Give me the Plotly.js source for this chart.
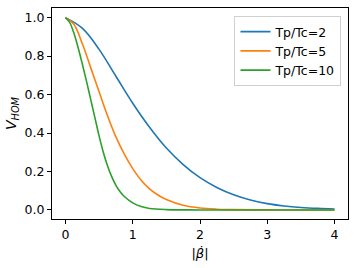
<!DOCTYPE html>
<html>
<head>
<meta charset="utf-8">
<script src="https://cdn.plot.ly/plotly-3.0.1.min.js"></script>
<style>html,body{margin:0;padding:0;background:#fff;}#chart{width:357px;height:268px;}</style>
</head>
<body>
<div id="chart"></div>
<script>
// Tp/Tc = 2
const beta2 = [0, 0.25, 0.5, 0.75, 1.0, 1.25, 1.5, 1.75, 2.0, 2.25, 2.5, 2.75, 3.0, 3.25, 3.5, 3.75, 4.0];
const v2    = [1.0, 0.945, 0.835, 0.695, 0.555, 0.43, 0.322, 0.236, 0.168, 0.117, 0.079, 0.052, 0.033, 0.021, 0.013, 0.008, 0.005];
// Tp/Tc = 5
const beta5 = [0, 0.125, 0.25, 0.375, 0.5, 0.625, 0.75, 0.875, 1.0, 1.125, 1.25, 1.375, 1.5, 1.75, 2.0, 2.25, 2.5, 3.0, 3.5, 4.0];
const v5    = [1.0, 0.965, 0.865, 0.74, 0.615, 0.49, 0.38, 0.29, 0.215, 0.155, 0.11, 0.078, 0.054, 0.024, 0.01, 0.004, 0.0015, 0.0002, 0.0, 0.0];
// Tp/Tc = 10
const beta10 = [0, 0.0625, 0.125, 0.1875, 0.25, 0.3125, 0.375, 0.4375, 0.5, 0.5625, 0.625, 0.6875, 0.75, 0.8125, 0.875, 1.0, 1.125, 1.25, 1.5, 1.75, 2.0, 2.5, 3.0, 3.5, 4.0];
const v10    = [1.0, 0.975, 0.92, 0.845, 0.76, 0.67, 0.575, 0.48, 0.385, 0.30, 0.23, 0.173, 0.128, 0.095, 0.07, 0.037, 0.018, 0.008, 0.002, 0.0005, 0.0, 0.0, 0.0, 0.0, 0.0];

const names = ["Tp/Tc=2", "Tp/Tc=5", "Tp/Tc=10"];
const colors = ["#1f77b4", "#ff7f0e", "#2ca02c"];
const xs = [beta2, beta5, beta10];
const ys = [v2, v5, v10];

const traces = names.map((n, i) => ({
  x: xs[i], y: ys[i], name: n, type: "scatter", mode: "lines",
  line: {color: colors[i], width: 1.6, shape: "spline", smoothing: 1}
}));

const font = {family: "DejaVu Sans", size: 12.5, color: "#000"};
const layout = {
  width: 357, height: 268,
  margin: {l: 52, r: 9, t: 8, b: 49},
  paper_bgcolor: "#fff", plot_bgcolor: "#fff",
  font: font,
  showlegend: true,
  legend: {x: 0.978, xanchor: "right", y: 0.962, yanchor: "top",
    bordercolor: "#d0d0d0", borderwidth: 1, bgcolor: "rgba(255,255,255,0.8)",
    font: {family: "DejaVu Sans", size: 12.5, color: "#000"}, itemwidth: 30,
    tracegroupgap: 0},
  xaxis: {range: [-0.2, 4.2], tickvals: [0, 1, 2, 3, 4], ticktext: ["0", "1", "2", "3", "4"],
    ticks: "outside", ticklen: 4, tickcolor: "#000", showline: true, linecolor: "#000", linewidth: 1,
    mirror: true, showgrid: false, zeroline: false, tickfont: font,
    title: {text: "<i>|β̇|</i>", font: {family: "DejaVu Sans", size: 13}, standoff: 7}},
  yaxis: {range: [-0.047, 1.05], tickvals: [0, 0.2, 0.4, 0.6, 0.8, 1.0], ticktext: ["0.0", "0.2", "0.4", "0.6", "0.8", "1.0"],
    ticks: "outside", ticklen: 4, tickcolor: "#000", showline: true, linecolor: "#000", linewidth: 1,
    mirror: true, showgrid: false, zeroline: false, tickfont: font,
    title: {text: "<i>V</i><sub><i>HOM</i></sub>", font: {family: "DejaVu Sans", size: 14}, standoff: 4}}
};

Plotly.newPlot("chart", traces, layout, {staticPlot: true, displayModeBar: false});
</script>
</body>
</html>
